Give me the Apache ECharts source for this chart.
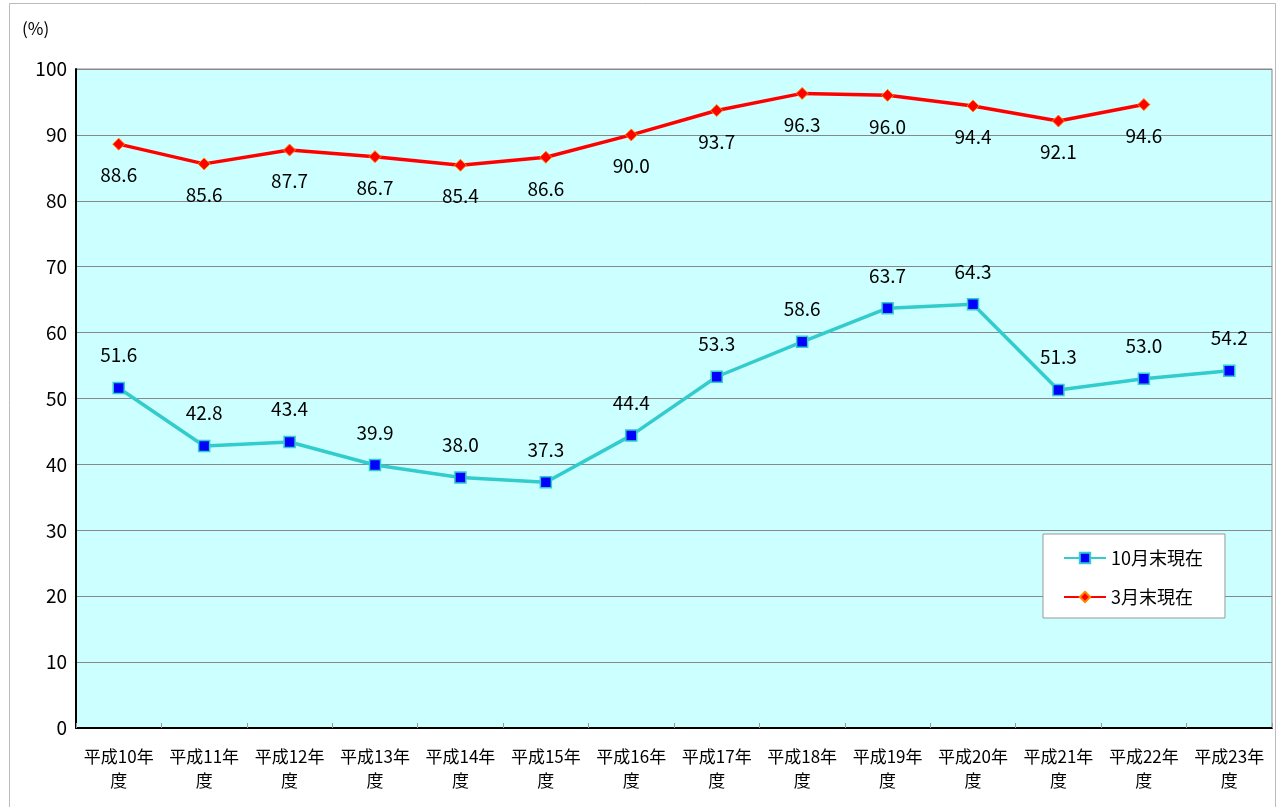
<!DOCTYPE html>
<html><head><meta charset="utf-8">
<script src="https://cdn.jsdelivr.net/npm/echarts@6/dist/echarts.min.js"></script>
<style>html,body{margin:0;padding:0;background:#fff}#c{width:1282px;height:807px}</style>
</head><body><div id="c"></div>
<script>
const categories = ['平成10年\n度','平成11年\n度','平成12年\n度','平成13年\n度','平成14年\n度','平成15年\n度','平成16年\n度','平成17年\n度','平成18年\n度','平成19年\n度','平成20年\n度','平成21年\n度','平成22年\n度','平成23年\n度'];
const octValues = [51.6, 42.8, 43.4, 39.9, 38.0, 37.3, 44.4, 53.3, 58.6, 63.7, 64.3, 51.3, 53.0, 54.2];
const marValues = [88.6, 85.6, 87.7, 86.7, 85.4, 86.6, 90.0, 93.7, 96.3, 96.0, 94.4, 92.1, 94.6, null];
const yTicks = [0, 10, 20, 30, 40, 50, 60, 70, 80, 90, 100];

const FONT = '"Noto Sans CJK JP", "Noto Sans", sans-serif';
const chart = echarts.init(document.getElementById('c'));
chart.setOption({
  animation: false,
  textStyle: { fontFamily: FONT },
  graphic: [
    { type: 'rect', shape: { x: 9.5, y: 3.5, width: 1266, height: 810 }, style: { fill: 'none', stroke: '#bbb', lineWidth: 1 } },
    { type: 'text', left: 22, top: 20, style: { text: '(%)', font: '17px ' + FONT, fill: '#000' } }
  ],
  grid: { left: 76, right: 10, top: 69, bottom: 79, show: true, backgroundColor: '#ccffff', borderColor: '#888', borderWidth: 1 },
  legend: {
    orient: 'vertical', left: 1043, top: 534, width: 186,
    backgroundColor: '#fff', borderColor: '#999', borderWidth: 1,
    padding: [15, 22, 12, 20], itemGap: 21, itemWidth: 42, itemHeight: 13,
    textStyle: { fontSize: 18, color: '#000', fontFamily: FONT },
    data: ['10月末現在', '3月末現在']
  },
  xAxis: {
    type: 'category', data: categories, boundaryGap: true,
    axisLine: { lineStyle: { color: '#000', width: 2 } },
    axisTick: { show: true, inside: true, length: 5, lineStyle: { color: '#999' } },
    axisLabel: { fontSize: 17, color: '#000', lineHeight: 24, margin: 17, interval: 0 },
    splitLine: { show: false }
  },
  yAxis: {
    type: 'value', min: 0, max: 100, interval: 10,
    axisLine: { show: true, lineStyle: { color: '#000', width: 2 } },
    axisTick: { show: false },
    axisLabel: { fontSize: 19, color: '#000', margin: 9, formatter: v => yTicks.includes(v) ? String(v) : '' },
    splitLine: { show: true, lineStyle: { color: '#888', width: 1 } }
  },
  series: [
    {
      name: '10月末現在', type: 'line', data: octValues,
      lineStyle: { color: '#33cccc', width: 3.5 },
      itemStyle: { color: '#0000ff', borderColor: '#33cccc', borderWidth: 1.5 },
      symbol: 'rect', symbolSize: 11,
      label: { show: true, position: 'top', distance: 17, fontSize: 19, color: '#000', formatter: p => p.value.toFixed(1) },
      z: 3
    },
    {
      name: '3月末現在', type: 'line', data: marValues,
      lineStyle: { color: '#ff0000', width: 3.5 },
      itemStyle: { color: '#ff0000', borderColor: '#ff8800', borderWidth: 1 },
      symbol: 'diamond', symbolSize: 12,
      label: { show: true, position: 'bottom', distance: 15, fontSize: 19, color: '#000', formatter: p => p.value.toFixed(1) },
      z: 4
    }
  ]
});
</script></body></html>
